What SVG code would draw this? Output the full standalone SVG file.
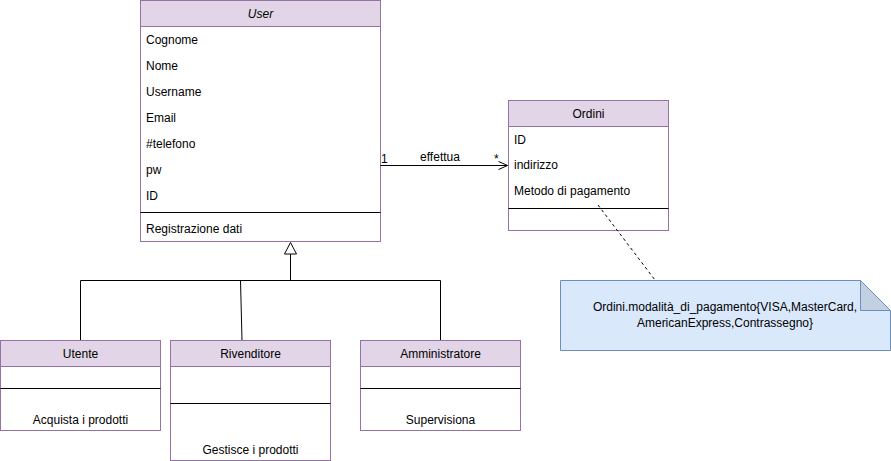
<svg xmlns="http://www.w3.org/2000/svg" width="891" height="461" viewBox="0 0 891 461">
<defs>
<style>
.box{fill:#ffffff;stroke:#9673a6;stroke-width:1}
.hdr{fill:#e1d5e7;stroke:#9673a6;stroke-width:1}
.div{stroke:#000;stroke-width:1}
.t{font-family:"Liberation Sans",Arial,sans-serif;font-size:12px;fill:#000}
.c{text-anchor:middle}
.edge{fill:none;stroke:#000;stroke-width:1}
</style>
<marker id="open" viewBox="0 0 10 10" refX="10" refY="5" markerWidth="10" markerHeight="10" markerUnits="userSpaceOnUse" orient="auto">
<path d="M1,1 L10,5 L1,9" fill="none" stroke="#000" stroke-width="1"/>
</marker>
</defs>
<rect width="891" height="461" fill="#ffffff"/>
<g id="user">
<rect class="box" x="140.5" y="0.5" width="240" height="241"/>
<rect class="hdr" x="140.5" y="0.5" width="240" height="26"/>
<text class="t c" x="260.5" y="18" font-style="italic">User</text>
<text class="t" x="146" y="44">Cognome</text>
<text class="t" x="146" y="70">Nome</text>
<text class="t" x="146" y="96">Username</text>
<text class="t" x="146" y="122">Email</text>
<text class="t" x="146" y="148">#telefono</text>
<text class="t" x="146" y="174">pw</text>
<text class="t" x="146" y="200">ID</text>
<line class="div" x1="140.5" y1="212.5" x2="380.5" y2="212.5"/>
<text class="t" x="146" y="233">Registrazione dati</text>
</g>
<g id="ordini">
<rect class="box" x="508.5" y="100.5" width="160" height="130"/>
<rect class="hdr" x="508.5" y="100.5" width="160" height="26"/>
<text class="t c" x="588.5" y="118">Ordini</text>
<text class="t" x="514" y="144">ID</text>
<text class="t" x="514" y="169">indirizzo</text>
<text class="t" x="514" y="195">Metodo di pagamento</text>
<line class="div" x1="508.5" y1="208.5" x2="668.5" y2="208.5"/>
</g>
<g id="note">
<path d="M560.5,280.5 L860.5,280.5 L890.5,310.5 L890.5,350.5 L560.5,350.5 Z" fill="#dae8fc" stroke="#6c8ebf" stroke-width="1"/>
<path d="M860.5,280.5 L860.5,310.5 L890.5,310.5 Z" fill="#c3d0e2" stroke="#6c8ebf" stroke-width="1"/>
<text class="t c" x="725" y="311">Ordini.modalità_di_pagamento{VISA,MasterCard,</text>
<text class="t c" x="725" y="327">AmericanExpress,Contrassegno}</text>
</g>
<g id="utente">
<rect class="box" x="0.5" y="340.5" width="160" height="90"/>
<rect class="hdr" x="0.5" y="340.5" width="160" height="26"/>
<text class="t c" x="80.5" y="358">Utente</text>
<line class="div" x1="0.5" y1="388.5" x2="160.5" y2="388.5"/>
<text class="t c" x="80.5" y="424">Acquista i prodotti</text>
</g>
<g id="rivenditore">
<rect class="box" x="170.5" y="340.5" width="160" height="120"/>
<rect class="hdr" x="170.5" y="340.5" width="160" height="26"/>
<text class="t c" x="250.5" y="358">Rivenditore</text>
<line class="div" x1="170.5" y1="403.5" x2="330.5" y2="403.5"/>
<text class="t c" x="250.5" y="454">Gestisce i prodotti</text>
</g>
<g id="amministratore">
<rect class="box" x="360.5" y="340.5" width="160" height="90"/>
<rect class="hdr" x="360.5" y="340.5" width="160" height="26"/>
<text class="t c" x="440.5" y="358">Amministratore</text>
<line class="div" x1="360.5" y1="388.5" x2="520.5" y2="388.5"/>
<text class="t c" x="440.5" y="424">Supervisiona</text>
</g>
<g id="connectors">
<path class="edge" d="M380.5,165.5 L507.5,165.5" marker-end="url(#open)"/>
<path class="edge" d="M598,205 L655,280" stroke-dasharray="3,3"/>
<path class="edge" d="M290.5,254 L290.5,280.5"/>
<path d="M290.5,242.5 L296.5,254 L284.5,254 Z" fill="#fff" stroke="#000" stroke-width="1"/>
<path class="edge" d="M80.5,280.5 L440.5,280.5"/>
<path class="edge" d="M80.5,280.5 L80.5,340"/>
<path class="edge" d="M240.5,280.5 L242,340"/>
<path class="edge" d="M440.5,280.5 L440.5,340"/>
<text class="t" x="381" y="163">1</text>
<text class="t" x="440" y="161" text-anchor="middle">effettua</text>
<text class="t" x="494" y="163">*</text>
</g>
</svg>
